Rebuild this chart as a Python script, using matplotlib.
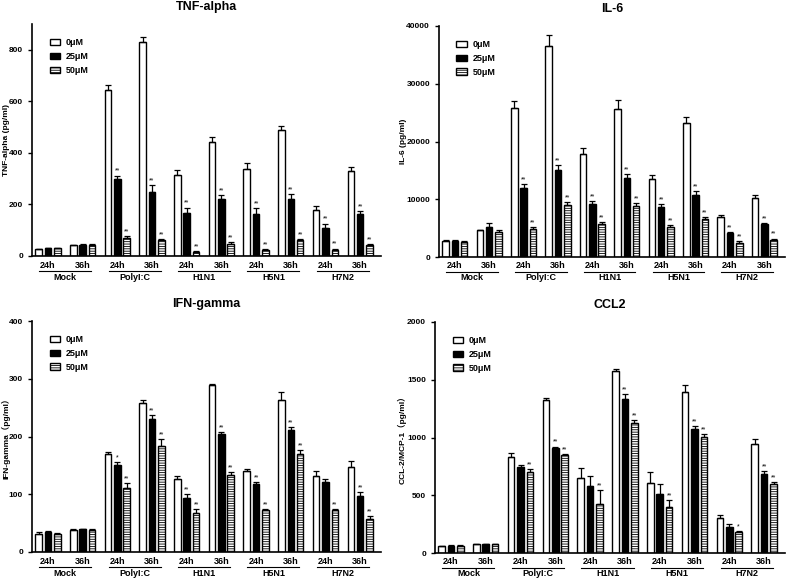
import numpy as np
import matplotlib
matplotlib.use("Agg")
import matplotlib.pyplot as plt
from matplotlib.patches import Patch
from matplotlib.transforms import blended_transform_factory

plt.rcParams['font.family'] = ['Liberation Sans', 'Noto Sans CJK SC', 'DejaVu Sans']
plt.rcParams['font.weight'] = 'bold'
plt.rcParams['hatch.linewidth'] = 0.6

groups = ['Mock', 'PolyI:C', 'H1N1', 'H5N1', 'H7N2']
times = ['24h', '36h']
doses = ['0μM', '25μM', '50μM']

# TNF-alpha
tnf_0 = [26, 41, 643, 830, 316, 443, 339, 490, 178, 328]
tnf_25 = [30, 43, 297, 249, 165, 221, 164, 222, 110, 163]
tnf_50 = [30, 43, 70, 62, 14, 46, 22, 61, 25, 41]
tnf_e0 = [2, 3, 22, 19, 17, 18, 22, 13, 17, 17]
tnf_e25 = [2, 3, 15, 28, 23, 14, 21, 18, 16, 12]
tnf_e50 = [2, 3, 9, 4, 7, 7, 5, 4, 4, 6]
tnf_s25 = ['', '', '**', '**', '**', '**', '**', '**', '**', '**']
tnf_s50 = ['', '', '**', '**', '**', '**', '**', '**', '**', '**']

# IL-6
il6_0 = [2790, 4590, 25870, 36570, 17790, 25580, 13490, 23200, 6920, 10230]
il6_25 = [2790, 5120, 11920, 15120, 9240, 13660, 8600, 10700, 4070, 5640]
il6_50 = [2670, 4360, 4830, 9070, 5760, 8840, 5170, 6570, 2500, 2970]
il6_e0 = [150, 150, 1200, 1800, 1160, 1600, 700, 1100, 300, 470]
il6_e25 = [150, 750, 640, 750, 470, 750, 640, 750, 230, 300]
il6_e50 = [100, 300, 350, 470, 300, 500, 400, 350, 230, 230]
il6_s25 = ['', '', '**', '**', '**', '**', '**', '**', '**', '**']
il6_s50 = ['', '', '**', '**', '**', '**', '**', '**', '**', '**']

# IFN-gamma
ifn_0 = [31, 38, 170, 258, 126, 289, 140, 263, 132, 148]
ifn_25 = [34, 39, 150, 231, 94, 205, 118, 211, 122, 97]
ifn_50 = [32, 38, 110, 183, 67, 133, 72, 169, 72, 57]
ifn_e0 = [3, 1, 4, 6, 6, 2, 4, 14, 9, 10]
ifn_e25 = [2, 1, 5, 6, 7, 3, 3, 5, 4, 7]
ifn_e50 = [1, 2, 9, 12, 7, 5, 3, 8, 3, 6]
ifn_s25 = ['', '', '*', '**', '**', '**', '**', '**', '', '**']
ifn_s50 = ['', '', '**', '**', '**', '**', '**', '**', '**', '**']

# CCL2
ccl_0 = [58, 75, 835, 1328, 649, 1577, 609, 1391, 301, 942]
ccl_25 = [61, 75, 745, 910, 583, 1336, 513, 1070, 229, 681]
ccl_50 = [58, 75, 701, 846, 420, 1125, 397, 1003, 180, 594]
ccl_e0 = [4, 5, 32, 14, 90, 17, 90, 61, 27, 41]
ccl_e25 = [5, 5, 14, 12, 87, 41, 84, 29, 20, 29]
ccl_e50 = [14, 6, 26, 12, 125, 26, 61, 26, 11, 18]
ccl_s25 = ['', '', '', '**', '', '**', '', '**', '', '**']
ccl_s50 = ['', '', '**', '**', '**', '**', '**', '**', '*', '**']

panels = [
    ('TNF-alpha', 'TNF-alpha (pg/ml)', 900, np.arange(0, 801, 200),
     [tnf_0, tnf_25, tnf_50], [tnf_e0, tnf_e25, tnf_e50], [None, tnf_s25, tnf_s50],
     [32, 256, 381, 24], -0.063),
    ('IL-6', 'IL-6 (pg/ml)', 40000, np.arange(0, 40001, 10000),
     [il6_0, il6_25, il6_50], [il6_e0, il6_e25, il6_e50], [None, il6_s25, il6_s50],
     [439, 257, 785, 26], -0.092),
    ('IFN-gamma', 'IFN-gamma（pg/ml）', 400, np.arange(0, 401, 100),
     [ifn_0, ifn_25, ifn_50], [ifn_e0, ifn_e25, ifn_e50], [None, ifn_s25, ifn_s50],
     [32, 552, 381, 321], -0.063),
    ('CCL2', 'CCL-2/MCP-1（pg/ml）', 2000, np.arange(0, 2001, 500),
     [ccl_0, ccl_25, ccl_50], [ccl_e0, ccl_e25, ccl_e50], [None, ccl_s25, ccl_s50],
     [435, 553, 785, 322], -0.08),
]

W, H = 787, 578
fig = plt.figure(figsize=(W / 100, H / 100), dpi=100)

x = np.arange(10)
offs = [-0.27, 0, 0.27]
bw = 0.19
faces = ['white', 'black', 'white']
hatches = [None, None, '-------']

for title, ylab, ymax, yt, vals, errs, stars, box, ylx in panels:
    l, b, r, t = box
    ax = fig.add_axes([l / W, 1 - b / H, (r - l) / W, (b - t) / H])
    for k in range(3):
        v = np.array(vals[k])
        e = np.array(errs[k])
        ax.bar(x + offs[k], v, bw, color=faces[k], edgecolor='black',
               linewidth=1.0, hatch=hatches[k], zorder=2)
        ax.errorbar(x + offs[k], v, yerr=[np.zeros(10), e], fmt='none',
                    ecolor='black', elinewidth=0.9, capsize=2, capthick=0.9, zorder=3)
        if stars[k] is not None:
            for i in range(10):
                if stars[k][i]:
                    ax.annotate(stars[k][i], (x[i] + offs[k], v[i] + e[i]),
                                xytext=(0, 0.5), textcoords='offset points',
                                ha='center', va='bottom', fontsize=5,
                                fontweight='normal')
    ax.set_xlim(-0.46, 9.6)
    ax.set_ylim(0, ymax)
    ax.set_yticks(yt)
    ax.tick_params(axis='y', labelsize=6, length=3, width=1)
    ax.set_xticks([])
    for s in ['top', 'right']:
        ax.spines[s].set_visible(False)
    for s in ['left', 'bottom']:
        ax.spines[s].set_linewidth(1.2)
    ax.set_title(title, fontsize=9, fontweight='bold', pad=10)
    ax.set_ylabel(ylab, fontsize=6, fontweight='bold')
    ax.yaxis.set_label_coords(ylx, 0.5)

    tr = blended_transform_factory(ax.transData, ax.transAxes)
    ah = (b - t)
    for i in range(10):
        ax.text(x[i], -9 / ah, times[i % 2], transform=tr, ha='center',
                va='center', fontsize=6.5)
    for g in range(5):
        i = 2 * g
        ax.plot([i - 0.25, i + 1.25], [-15 / ah] * 2, transform=tr, color='black',
                lw=0.8, clip_on=False)
        ax.text(i + 0.5, -21 / ah, groups[g], transform=tr, ha='center',
                va='center', fontsize=6.5)

    handles = [Patch(facecolor=faces[k], edgecolor='black', hatch=hatches[k],
                     label=doses[k]) for k in range(3)]
    ax.legend(handles=handles, loc='upper left', bbox_to_anchor=(0.04, 0.955),
              frameon=False, fontsize=6.5, handlelength=1.2, handleheight=0.75,
              labelspacing=0.55, handletextpad=0.6, borderaxespad=0)

fig.savefig('out.png', dpi=100)
